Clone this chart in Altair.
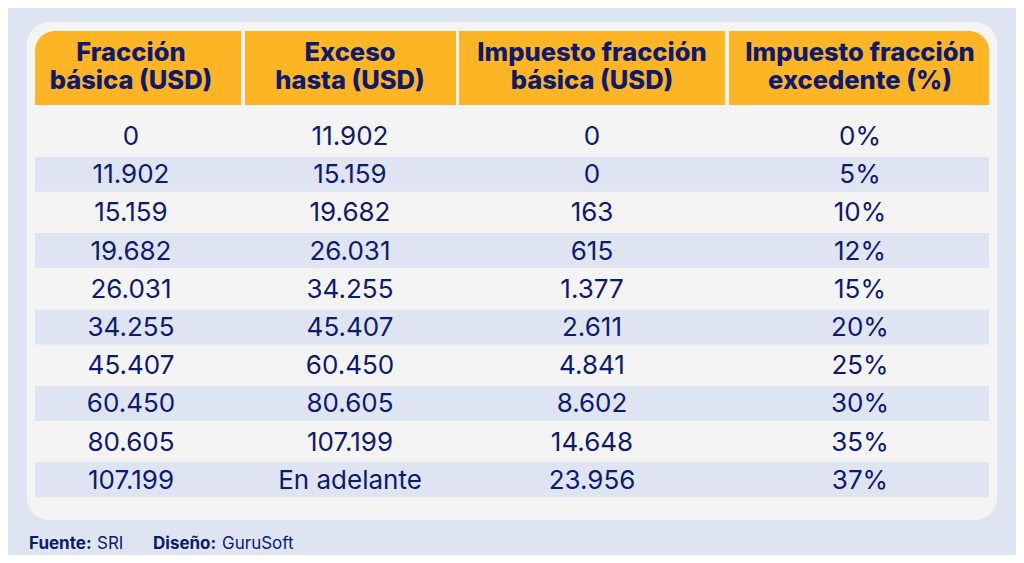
import altair as alt
import pandas as pd

# ---- data ----
headers = ["Fracción\nbásica (USD)", "Exceso\nhasta (USD)",
           "Impuesto fracción\nbásica (USD)", "Impuesto fracción\nexcedente (%)"]
fraccion_basica = ["0", "11.902", "15.159", "19.682", "26.031", "34.255",
                   "45.407", "60.450", "80.605", "107.199"]
exceso_hasta = ["11.902", "15.159", "19.682", "26.031", "34.255", "45.407",
                "60.450", "80.605", "107.199", "En adelante"]
impuesto_basica = ["0", "0", "163", "615", "1.377", "2.611", "4.841",
                   "8.602", "14.648", "23.956"]
impuesto_excedente = ["0%", "5%", "10%", "12%", "15%", "20%", "25%",
                      "30%", "35%", "37%"]
footer_labels = ["Fuente:", "Diseño:"]
footer_values = ["SRI", "GuruSoft"]

# ---- layout (page pixel coordinates) ----
NAVY = "#0D1A6E"
YELLOW = "#FDB525"
BG = "#DFE4F3"
CARD = "#F4F4F4"
FONT = "Inter"

col_left = [35, 245, 459, 729]
col_right = [241, 456, 725, 989]
col_text = [131, 350, 592, 860]
row0, row_step = 137.0, 38.2

W, H = 1008, 547
xs = alt.Scale(domain=[8, 8 + W])
ys = alt.Scale(domain=[8, 8 + H], reverse=True)


def X(f="x"):
    return alt.X(f + ":Q", scale=xs, axis=None)


def Y(f="y"):
    return alt.Y(f + ":Q", scale=ys, axis=None)


# card
card_df = pd.DataFrame({"x": [27], "x2": [997], "y": [22], "y2": [520]})
card = alt.Chart(card_df).mark_rect(color=CARD, cornerRadius=22).encode(
    x=X(), x2="x2", y=Y(), y2="y2")

# header cells
hdr_layers = []
for i in range(4):
    d = pd.DataFrame({"x": [col_left[i]], "x2": [col_right[i]], "y": [31], "y2": [105]})
    kw = {}
    if i == 0:
        kw["cornerRadiusTopLeft"] = 20
    if i == 3:
        kw["cornerRadiusTopRight"] = 20
    hdr_layers.append(alt.Chart(d).mark_rect(color=YELLOW, **kw).encode(
        x=X(), x2="x2", y=Y(), y2="y2"))

# band rows
band_rows = [i for i in range(len(fraccion_basica)) if i % 2 == 1]
band_df = pd.DataFrame({
    "x": [col_left[0]] * len(band_rows),
    "x2": [col_right[3]] * len(band_rows),
    "y": [row0 - 1 + r * row_step - 17.5 for r in band_rows],
    "y2": [row0 - 1 + r * row_step + 17.5 for r in band_rows],
})
bands = alt.Chart(band_df).mark_rect(color=BG).encode(
    x=X(), x2="x2", y=Y(), y2="y2")

# header text
hdr_text_df = pd.DataFrame({"x": col_text, "y": [53] * 4, "t": headers})
hdr_text = alt.Chart(hdr_text_df).mark_text(
    font=FONT, fontSize=25.5, fontWeight=800, color=NAVY, lineBreak="\n",
    lineHeight=28, align="center", baseline="middle").encode(
    x=X(), y=Y(), text="t:N")

# body text
cols = [fraccion_basica, exceso_hasta, impuesto_basica, impuesto_excedente]
recs = []
for c, vals in enumerate(cols):
    for r, v in enumerate(vals):
        recs.append({"x": col_text[c], "y": row0 + r * row_step, "t": v})
body_df = pd.DataFrame(recs)
body = alt.Chart(body_df).mark_text(
    font=FONT, fontSize=26, color=NAVY, align="center", baseline="middle").encode(
    x=X(), y=Y(), text="t:N")

# footer
foot_lab = alt.Chart(pd.DataFrame({"x": [29, 153], "y": [544, 544], "t": footer_labels})).mark_text(
    font=FONT, fontSize=17, fontWeight="bold", color=NAVY, align="left", baseline="middle").encode(
    x=X(), y=Y(), text="t:N")
foot_val = alt.Chart(pd.DataFrame({"x": [97, 222], "y": [544, 544], "t": footer_values})).mark_text(
    font=FONT, fontSize=17, color=NAVY, align="left", baseline="middle").encode(
    x=X(), y=Y(), text="t:N")

chart = alt.layer(card, *hdr_layers, bands, hdr_text, body, foot_lab, foot_val).properties(
    width=W, height=H, background=BG, padding=0,
    autosize=alt.AutoSizeParams(type="none"),
).configure_view(stroke=None)

chart.save("out.html", embed_options={"renderer": "svg", "actions": False})
